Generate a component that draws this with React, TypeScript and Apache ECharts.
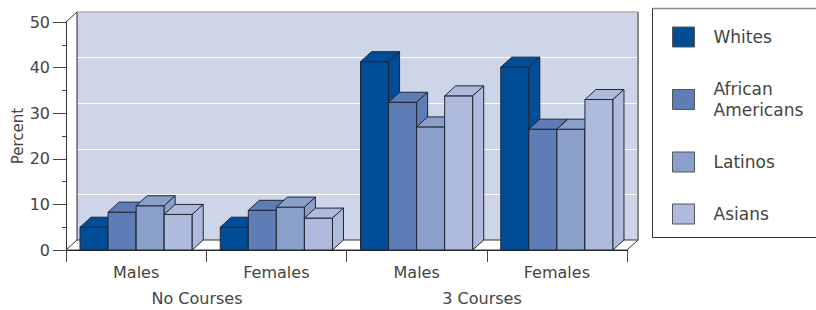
import React, { useEffect, useRef } from "react";
import * as echarts from "echarts";

// ---- data ----
const categories = ["Males", "Females", "Males", "Females"];
const groupLabels = ["No Courses", "3 Courses"];
const races = ["Whites", "African Americans", "Latinos", "Asians"];
const whites = [5, 5, 41.3, 40.1];
const africanAmericans = [8.3, 8.7, 32.4, 26.5];
const latinos = [9.7, 9.4, 27.0, 26.5];
const asians = [7.8, 7.0, 33.8, 33.0];
const yMin = 0;
const yMax = 50;
const yInterval = 10;

const seriesValues = [whites, africanAmericans, latinos, asians];
const colors = ["#004C97", "#5E7DB7", "#8B9FCB", "#AEBBDC"];

const FONT = "DejaVu Sans";
const TEXT = "#444";
const GRID_LEFT = 66;
const GRID_TOP = 22;
const GRID_W = 561;
const GRID_H = 228;
const DX = 11;
const DY = 10;

export default function App() {
  const ref = useRef<HTMLDivElement>(null);
  useEffect(() => {
    if (!ref.current) return;
    const chart = echarts.init(ref.current, null, { renderer: "svg" });

    const barSeries = races.map((name, i) => ({
      type: "custom",
      name,
      xAxisIndex: 0,
      yAxisIndex: 0,
      z: 3 + i,
      clip: false,
      itemStyle: { color: colors[i] },
      data: seriesValues[i].map((v, c) => [c, v]),
      renderItem: (params: any, api: any) => {
        const cat = api.value(0);
        const v = api.value(1);
        const top = api.coord([cat, v]);
        const base = api.coord([cat, 0]);
        const band = api.size([1, 0])[0];
        const w = band * 0.2;
        const x0 = top[0] - 2 * w + i * w;
        const x1 = x0 + w;
        const yT = top[1];
        const yB = base[1];
        const style = { fill: colors[i], stroke: "#1f2633", lineWidth: 1, lineJoin: "round" };
        return {
          type: "group",
          children: [
            { type: "rect", shape: { x: x0, y: yT, width: w, height: yB - yT }, style },
            {
              type: "polygon",
              shape: { points: [[x0, yT], [x0 + DX, yT - DY], [x1 + DX, yT - DY], [x1, yT]] },
              style,
            },
            {
              type: "polygon",
              shape: { points: [[x1, yT], [x1 + DX, yT - DY], [x1 + DX, yB - DY], [x1, yB]] },
              style,
            },
          ],
        };
      },
    }));

    const frameSeries = {
      type: "custom",
      name: "frame",
      xAxisIndex: 0,
      yAxisIndex: 0,
      z: 1,
      clip: false,
      silent: true,
      data: [[0, 0]],
      renderItem: (params: any) => {
        const cs = params.coordSys;
        const x = cs.x, y = cs.y, w = cs.width, h = cs.height;
        return {
          type: "group",
          children: [
            {
              type: "polygon",
              shape: { points: [[x, y + h], [x + DX, y + h - DY], [x + w + DX, y + h - DY], [x + w, y + h]] },
              style: { fill: "#ffffff", stroke: "#333", lineWidth: 1 },
            },
            { type: "line", shape: { x1: x, y1: y, x2: x + DX, y2: y - DY }, style: { stroke: "#333", lineWidth: 1 } },
            { type: "line", shape: { x1: x + DX, y1: y - DY, x2: x + DX, y2: y + h - DY }, style: { stroke: "#222", lineWidth: 1 } },
            { type: "line", shape: { x1: x + DX, y1: y - DY, x2: x + w + DX, y2: y - DY }, style: { stroke: "#aaa", lineWidth: 1.5 } },
            { type: "line", shape: { x1: x + w + DX, y1: y - DY, x2: x + w + DX, y2: y + h - DY }, style: { stroke: "#888", lineWidth: 2 } },
          ],
        };
      },
    };

    chart.setOption({
      animation: false,
      grid: [
        { left: GRID_LEFT, top: GRID_TOP, width: GRID_W, height: GRID_H, containLabel: false, outerBoundsMode: "none" },
        {
          left: GRID_LEFT + DX,
          top: GRID_TOP - DY,
          width: GRID_W,
          height: GRID_H,
          show: true,
          backgroundColor: "#CDD5E9",
          borderWidth: 0,
          outerBoundsMode: "none",
        },
      ],
      xAxis: [
        {
          type: "category",
          gridIndex: 0,
          data: categories,
          axisLine: { show: true, lineStyle: { color: "#222", width: 1 } },
          axisTick: { show: true, interval: 0, alignWithLabel: false, length: 12, lineStyle: { color: "#444" } },
          axisLabel: { interval: 0, margin: 14, fontFamily: FONT, fontSize: 16, color: TEXT },
        },
        { type: "category", gridIndex: 1, data: categories, show: false },
      ],
      yAxis: [
        {
          type: "value",
          gridIndex: 0,
          min: yMin,
          max: yMax,
          interval: yInterval,
          name: "Percent",
          nameLocation: "middle",
          nameRotate: 90,
          nameGap: 41,
          nameMoveOverlap: false,
          nameTextStyle: { fontFamily: FONT, fontSize: 15, color: TEXT },
          axisLine: { show: true, lineStyle: { color: "#333", width: 1 } },
          axisTick: { show: true, length: 13, lineStyle: { color: "#444" } },
          minorTick: { show: true, splitNumber: 2, length: 4, lineStyle: { color: "#444" } },
          axisLabel: { margin: 16, fontFamily: FONT, fontSize: 16, color: TEXT },
          splitLine: { show: false },
        },
        {
          type: "value",
          gridIndex: 1,
          min: yMin,
          max: yMax,
          interval: yInterval,
          axisLine: { show: false },
          axisTick: { show: false },
          axisLabel: { show: false },
          splitLine: { show: true, lineStyle: { color: "#ffffff", width: 1 } },
        },
      ],
      legend: {
        data: races,
        orient: "vertical",
        left: 672,
        top: 26.5,
        padding: 0,
        itemWidth: 22,
        itemHeight: 20,
        itemGap: 31,
        icon: "rect",
        itemStyle: { borderColor: "#555", borderWidth: 1 },
        formatter: (name: string) => (name === "African Americans" ? "African\nAmericans" : name),
        textStyle: { fontFamily: FONT, fontSize: 17, color: TEXT, lineHeight: 21, padding: [0, 0, 0, 14] },
        selectedMode: false,
      },
      graphic: [
        {
          type: "rect",
          shape: { x: 652.5, y: 8.5, width: 200, height: 229 },
          style: { fill: "none", stroke: "#333", lineWidth: 1 },
        },
        {
          type: "line",
          shape: { x1: 652.5, y1: 8.5, x2: 816, y2: 8.5 },
          style: { stroke: "#8a8a8a", lineWidth: 1.5 },
        },
        {
          type: "text",
          x: 197,
          y: 298,
          style: { text: groupLabels[0], fontFamily: FONT, fontSize: 16, fill: TEXT, align: "center", verticalAlign: "middle" },
        },
        {
          type: "text",
          x: 482,
          y: 298,
          style: { text: groupLabels[1], fontFamily: FONT, fontSize: 16, fill: TEXT, align: "center", verticalAlign: "middle" },
        },
      ],
      series: [frameSeries, ...barSeries],
    });
    return () => chart.dispose();
  }, []);
  return (
    <div
      ref={ref}
      style={{ position: "absolute", left: 0, top: 0, width: 816, height: 310, background: "#fff" }}
    />
  );
}
